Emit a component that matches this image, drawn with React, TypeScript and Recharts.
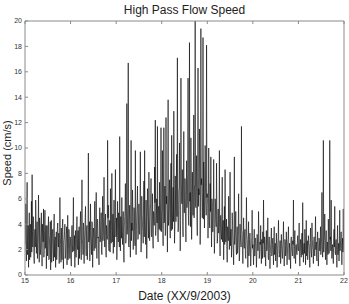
import React from "react";
import { LineChart, Line, XAxis, YAxis } from "recharts";

// speed readings (cm/s): the "a" arrays are the samples on the hour grid (64 per day),
// the "b" arrays are the samples taken half a step later
const day15a = [
  2.4, 5.6, 1.1, 7.3, 2.8, 0.6, 4.9, 3.2, 1.4, 5.8, 7.9, 2.2, 4.4, 0.9, 3.6, 5.9,
  1.7, 4.2, 2.5, 6.3, 1.0, 3.8, 2.1, 4.9, 0.7, 3.3, 5.2, 1.9, 5.1, 2.6, 0.5, 3.9,
  2.3, 4.6, 1.3, 3.1, 0.4, 4.3, 2.0, 3.6, 1.1, 4.8, 2.7, 0.6, 3.4, 1.8, 4.1, 2.2,
  0.9, 6.1, 2.4, 3.7, 1.2, 4.4, 0.5, 2.9, 4.0, 1.6, 3.2, 0.8, 4.7, 2.1, 3.5, 1.3,
];
const day15b = [
  3.5, 2.0, 4.3, 1.6, 3.9, 2.7, 1.2, 4.0, 2.9, 1.8, 3.4, 4.6, 1.5, 3.1, 2.2, 4.1,
  3.0, 1.3, 3.7, 2.4, 4.5, 1.6, 3.2, 2.0, 4.0, 2.6, 1.4, 3.5, 2.1, 3.9, 2.8, 1.5,
  3.6, 1.2, 2.9, 4.2, 2.4, 1.0, 3.3, 2.0, 3.8, 1.4, 3.0, 2.5, 1.2, 3.7, 2.3, 3.3,
  2.0, 3.2, 1.0, 2.8, 3.9, 1.7, 2.6, 3.4, 1.3, 2.5, 3.8, 2.0, 1.2, 3.6, 2.2, 3.0,
];
const day16a = [
  2.6, 0.7, 3.9, 1.8, 6.1, 2.3, 0.6, 3.5, 1.4, 4.6, 2.0, 0.8, 3.8, 2.7, 5.0, 1.2,
  7.5, 2.4, 4.1, 0.9, 3.3, 5.4, 1.5, 3.9, 2.1, 9.6, 3.0, 1.1, 5.6, 2.5, 4.2, 0.6,
  3.7, 1.9, 5.8, 2.6, 6.5, 1.3, 4.4, 3.0, 0.8, 5.3, 2.8, 4.9, 1.6, 6.2, 3.1, 7.7,
  2.2, 4.8, 1.4, 3.6, 10.6, 5.5, 1.9, 4.3, 6.8, 2.5, 8.0, 3.4, 1.7, 5.9, 3.8, 8.3,
];
const day16b = [
  1.5, 3.2, 2.4, 4.0, 1.9, 3.1, 2.8, 1.4, 3.7, 2.2, 3.5, 2.6, 1.3, 3.9, 2.0, 3.3,
  2.9, 1.6, 3.8, 2.7, 4.4, 2.0, 3.6, 1.2, 3.4, 2.6, 4.2, 2.3, 3.0, 1.6, 4.1, 2.8,
  3.3, 4.5, 2.1, 3.7, 2.4, 4.3, 2.9, 1.5, 3.8, 2.6, 4.0, 1.9, 3.5, 2.7, 4.6, 3.0,
  4.2, 2.1, 3.9, 2.8, 4.5, 2.4, 3.6, 1.8, 3.1, 4.4, 2.6, 4.8, 3.3, 2.2, 4.6, 3.0,
];
const day17a = [
  3.1, 1.2, 5.8, 2.6, 4.4, 10.9, 1.9, 3.8, 6.1, 2.4, 5.0, 1.0, 4.6, 7.2, 2.8, 13.5,
  3.9, 16.7, 2.2, 5.5, 1.4, 10.6, 4.1, 6.7, 2.0, 5.3, 3.4, 9.8, 1.6, 4.8, 7.0, 2.9,
  5.6, 3.2, 9.7, 1.8, 6.2, 4.0, 2.5, 7.4, 9.8, 3.6, 5.9, 1.3, 6.8, 4.3, 8.1, 2.7,
  5.2, 7.6, 3.0, 6.4, 2.1, 4.9, 8.5, 12.2, 3.8, 6.0, 11.7, 2.6, 5.4, 7.3, 3.5, 11.6,
];
const day17b = [
  4.5, 2.7, 3.6, 4.9, 2.2, 3.8, 4.6, 2.9, 3.4, 4.2, 1.9, 3.7, 5.1, 2.5, 4.0, 3.2,
  5.4, 2.4, 4.3, 3.0, 4.8, 2.7, 3.5, 4.6, 3.1, 5.2, 2.3, 4.1, 3.6, 5.5, 2.8, 4.4,
  3.3, 5.0, 4.2, 2.6, 4.7, 3.4, 5.8, 3.0, 4.5, 2.4, 4.9, 3.8, 5.3, 2.9, 4.6, 3.7,
  5.6, 3.2, 4.4, 2.7, 5.0, 3.9, 5.7, 3.1, 4.8, 4.1, 2.9, 5.4, 3.6, 4.7, 6.0, 3.4,
];
const day18a = [
  4.6, 9.8, 2.3, 11.6, 5.0, 3.1, 12.4, 6.2, 1.8, 13.8, 4.4, 7.5, 2.9, 8.8, 11.0, 3.6,
  6.9, 12.9, 2.5, 7.8, 4.2, 9.5, 17.1, 3.4, 6.6, 10.4, 1.9, 15.5, 5.7, 8.3, 3.0, 11.3,
  4.9, 7.4, 2.6, 9.0, 5.8, 15.5, 3.9, 18.3, 6.5, 10.8, 2.8, 8.1, 4.7, 12.6, 7.0, 20.0,
  5.3, 9.4, 3.1, 16.3, 6.8, 11.5, 2.4, 19.4, 7.6, 4.5, 18.7, 8.9, 3.7, 10.2, 5.9, 18.1,
];
const day18b = [
  5.2, 3.6, 6.4, 4.1, 7.0, 3.3, 5.6, 4.8, 6.6, 3.9, 5.9, 4.5, 7.1, 3.5, 6.2, 5.0,
  4.2, 6.8, 3.8, 5.5, 7.3, 4.6, 6.0, 3.7, 6.9, 5.1, 4.3, 7.4, 5.6, 3.9, 6.7, 4.9,
  7.6, 4.4, 6.3, 5.3, 8.0, 4.7, 6.5, 5.8, 3.8, 7.2, 5.0, 6.6, 8.1, 4.5, 7.0, 5.5,
  6.8, 4.2, 7.7, 5.4, 6.3, 8.4, 4.9, 7.1, 5.7, 6.5, 4.4, 7.5, 5.8, 6.9, 4.7, 6.1,
];
const day19a = [
  6.4, 2.9, 10.0, 4.1, 7.2, 9.3, 2.2, 5.6, 3.4, 9.1, 1.7, 6.0, 4.3, 8.8, 2.5, 5.1,
  3.3, 9.8, 1.5, 4.7, 2.8, 7.7, 3.9, 1.2, 5.4, 8.3, 2.6, 4.4, 1.0, 3.7, 6.2, 2.0,
  8.1, 3.5, 1.4, 4.9, 2.7, 0.8, 9.3, 3.1, 5.0, 1.6, 3.8, 2.2, 6.4, 1.1, 4.0, 2.6,
  11.7, 3.4, 0.9, 4.5, 2.1, 3.6, 1.3, 6.1, 2.8, 0.6, 4.2, 1.9, 3.3, 0.7, 2.7, 5.1,
];
const day19b = [
  5.5, 4.3, 6.3, 3.7, 5.0, 4.6, 6.0, 3.4, 5.3, 4.1, 3.2, 5.6, 3.8, 4.7, 3.0, 5.2,
  4.0, 2.8, 4.6, 3.5, 5.0, 2.6, 4.3, 3.3, 2.4, 4.1, 3.0, 2.0, 3.8, 2.7, 4.2, 3.1,
  2.3, 3.6, 2.6, 3.9, 1.9, 3.3, 2.4, 3.7, 2.1, 3.0, 1.7, 3.4, 2.6, 1.8, 3.2, 2.2,
  3.5, 1.9, 2.9, 2.4, 3.4, 1.6, 2.7, 3.1, 2.0, 2.8, 1.5, 3.0, 2.3, 1.8, 2.9, 2.1,
];
const day20a = [
  2.4, 0.8, 3.6, 1.5, 2.9, 0.6, 3.2, 1.9, 5.0, 1.3, 2.6, 3.9, 0.9, 2.2, 3.4, 5.9,
  1.4, 2.8, 0.7, 3.5, 2.0, 4.5, 1.2, 3.0, 0.5, 2.4, 3.7, 1.6, 2.9, 0.8, 3.8, 2.1,
  1.1, 3.3, 0.6, 2.5, 4.3, 1.4, 2.7, 0.9, 3.2, 1.7, 2.3, 4.2, 0.7, 2.8, 1.5, 3.4,
  0.8, 2.6, 3.8, 1.2, 2.1, 0.5, 3.0, 1.8, 2.7, 5.9, 1.3, 3.5, 0.9, 2.4, 1.6, 3.1,
];
const day20b = [
  1.8, 2.7, 1.5, 2.9, 2.2, 1.4, 2.6, 2.0, 3.1, 1.6, 2.4, 1.8, 2.8, 1.3, 2.5, 2.0,
  3.0, 1.6, 2.3, 1.9, 2.9, 1.4, 2.6, 2.1, 1.7, 2.8, 1.5, 2.4, 2.0, 3.0, 1.6, 2.5,
  1.9, 2.3, 1.4, 2.9, 2.1, 1.6, 2.7, 1.8, 2.4, 1.3, 2.8, 2.0, 1.5, 2.6, 1.9, 2.3,
  1.6, 2.9, 1.8, 2.5, 1.4, 2.7, 2.0, 1.5, 2.4, 1.9, 2.8, 1.6, 2.3, 1.8, 2.6, 2.0,
];
const day21a = [
  1.9, 4.1, 0.7, 2.8, 1.4, 3.3, 5.7, 1.0, 2.5, 3.6, 0.8, 4.3, 2.0, 1.2, 3.1, 2.4,
  0.6, 3.7, 1.8, 4.1, 2.2, 0.9, 3.0, 1.5, 4.6, 2.6, 1.1, 3.4, 0.7, 2.9, 1.9, 3.8,
  2.3, 6.5, 1.4, 10.6, 2.7, 4.8, 1.2, 3.5, 0.8, 2.6, 4.4, 1.7, 10.6, 3.0, 5.9, 1.3,
  2.4, 0.9, 3.6, 5.4, 1.6, 2.8, 0.6, 3.9, 2.2, 1.1, 5.1, 2.5, 3.4, 0.8, 2.9, 5.2,
];
const day21b = [
  2.6, 1.5, 2.3, 1.9, 2.8, 1.6, 2.5, 2.1, 1.7, 2.9, 2.0, 1.5, 2.7, 1.8, 2.4, 1.6,
  2.6, 2.2, 1.4, 2.8, 1.9, 2.5, 1.7, 2.9, 2.0, 1.5, 2.7, 2.2, 1.8, 2.6, 2.3, 1.6,
  2.9, 2.0, 2.6, 1.8, 3.1, 2.2, 2.7, 1.9, 2.5, 1.6, 3.0, 2.3, 2.8, 1.9, 2.4, 2.1,
  1.7, 2.9, 2.2, 1.8, 2.6, 2.0, 2.8, 1.6, 2.5, 2.2, 1.9, 2.7, 2.1, 2.4, 1.8, 2.3,
];
const lastReading = 1.8; // 22/9 00:00

const gridA = [day15a, day16a, day17a, day18a, day19a, day20a, day21a];
const gridB = [day15b, day16b, day17b, day18b, day19b, day20b, day21b];
const firstDay = 15;
const lastDay = 22;
const xTicks = [15, 16, 17, 18, 19, 20, 21, 22];
const yTicks = [0, 2, 4, 6, 8, 10, 12, 14, 16, 18, 20];

const data = gridA
  .flatMap((vals, d) =>
    vals.flatMap((v, i) => [
      { t: firstDay + d + i / 64, speed: v },
      { t: firstDay + d + (i + 0.5) / 64, speed: gridB[d][i] },
    ])
  )
  .concat([{ t: lastDay, speed: lastReading }]);

const FONT = "'Liberation Sans', Arial, sans-serif";
const boxColor = "#8a8a8a";
const tickStyle = { fontSize: 7, fill: "#333", fontFamily: FONT };

export default function App() {
  return (
    <div style={{ position: "absolute", left: 0, top: 0, width: 349, height: 304, background: "#fff" }}>
      <div
        style={{
          position: "absolute",
          top: 3,
          left: 25,
          width: 319,
          textAlign: "center",
          fontFamily: FONT,
          fontSize: 12,
          color: "#222",
        }}
      >
        High Pass Flow Speed
      </div>
      <div
        style={{
          position: "absolute",
          top: 289,
          left: 25,
          width: 319,
          textAlign: "center",
          fontFamily: FONT,
          fontSize: 12,
          color: "#222",
        }}
      >
        Date (XX/9/2003)
      </div>
      <div
        style={{
          position: "absolute",
          left: 7,
          top: 153,
          transform: "translate(-50%, -50%) rotate(-90deg)",
          whiteSpace: "nowrap",
          fontFamily: FONT,
          fontSize: 11,
          color: "#222",
        }}
      >
        Speed (cm/s)
      </div>
      <LineChart width={349} height={304} data={data} margin={{ top: 0, right: 0, bottom: 0, left: 0 }}>
        <XAxis
          dataKey="t"
          type="number"
          domain={[15, 22]}
          ticks={xTicks}
          height={29}
          stroke={boxColor}
          tickSize={-3}
          tickMargin={6}
          tick={tickStyle}
          allowDataOverflow
        />
        <XAxis
          xAxisId="top"
          dataKey="t"
          type="number"
          orientation="top"
          domain={[15, 22]}
          ticks={xTicks}
          height={21}
          stroke={boxColor}
          tickSize={-3}
          tickFormatter={() => ""}
        />
        <YAxis
          type="number"
          domain={[0, 20]}
          ticks={yTicks}
          width={25}
          stroke={boxColor}
          tickSize={-3}
          tickMargin={6}
          tick={tickStyle}
          allowDataOverflow
        />
        <YAxis
          yAxisId="right"
          orientation="right"
          type="number"
          domain={[0, 20]}
          ticks={yTicks}
          width={5}
          stroke={boxColor}
          tickSize={-3}
          tickFormatter={() => ""}
        />
        <Line
          type="linear"
          dataKey="speed"
          stroke="#000"
          strokeWidth={0.6}
          dot={false}
          isAnimationActive={false}
        />
      </LineChart>
    </div>
  );
}
